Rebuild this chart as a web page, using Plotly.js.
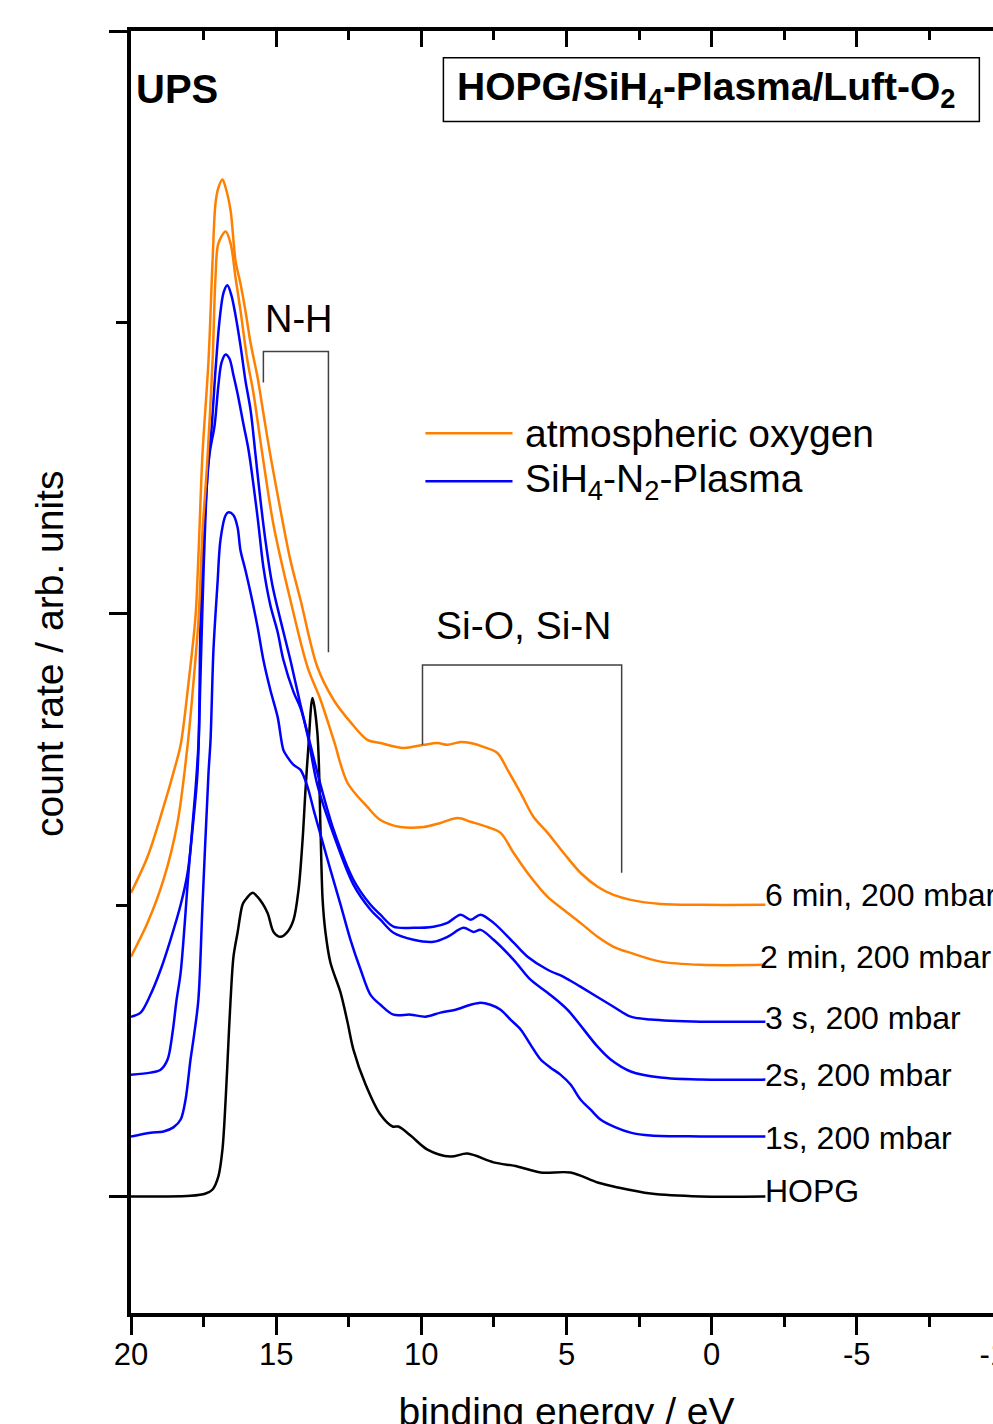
<!DOCTYPE html>
<html>
<head>
<meta charset="utf-8">
<script src="https://cdn.plot.ly/plotly-3.0.1.min.js"></script>
<style>
html,body{margin:0;padding:0;overflow:hidden;background:#fff;}
#chart{width:1042px;height:1440px;}
</style>
</head>
<body>
<div id="chart"></div>
<script>
// ---- data (binding energy in eV, count rate in arb. units, stacked) ----
const hopgX = [20, 18.98, 17.95, 17.43, 17.19, 16.99, 16.85, 16.74, 16.64, 16.57, 16.47, 16.33, 16.16, 16.06, 15.81, 15.64, 15.30, 15.09, 14.85, 14.61, 14.40, 14.23, 14.09, 13.99, 13.89, 13.75, 13.58, 13.47, 13.40, 13.30, 13.13, 12.78, 12.54, 12.34, 11.92, 11.41, 10.99, 10.79, 10.37, 9.79, 9.00, 8.41, 7.51, 6.69, 5.89, 4.86, 3.93, 3.24, 2.10, 0.38, -1.85];
const hopgY = [0, 0, 0.002, 0.010, 0.024, 0.069, 0.161, 0.333, 0.538, 0.675, 0.823, 0.905, 1.001, 1.018, 1.042, 1.028, 0.974, 0.908, 0.891, 0.908, 0.950, 1.052, 1.224, 1.395, 1.543, 1.711, 1.591, 1.248, 1.018, 0.905, 0.802, 0.699, 0.597, 0.504, 0.384, 0.281, 0.240, 0.240, 0.209, 0.161, 0.137, 0.147, 0.117, 0.103, 0.082, 0.082, 0.048, 0.031, 0.010, 0, 0];

const s1X = [20, 19.33, 18.88, 18.54, 18.29, 18.12, 17.95, 17.85, 17.68, 17.54, 17.33, 17.26, 17.16, 17.02, 16.92, 16.74, 16.64, 16.47, 16.33, 16.23, 16.06, 15.88, 15.64, 15.44, 15.20, 14.95, 14.75, 14.61, 14.40, 14.16, 13.92, 13.71, 13.47, 13.13, 12.78, 12.44, 12.09, 11.75, 11.41, 10.96, 10.37, 9.85, 9.34, 8.82, 8.30, 7.96, 7.62, 7.27, 6.93, 6.58, 6.24, 5.89, 5.55, 5.21, 4.86, 4.52, 4.17, 3.83, 3.31, 2.79, 2.10, 0.38, -1.85];
const s1Y = [0.206, 0.219, 0.223, 0.237, 0.264, 0.333, 0.470, 0.538, 0.675, 0.994, 1.454, 1.567, 1.875, 2.105, 2.252, 2.338, 2.348, 2.338, 2.297, 2.218, 2.150, 2.071, 1.954, 1.841, 1.738, 1.646, 1.532, 1.508, 1.481, 1.464, 1.406, 1.327, 1.241, 1.121, 1.001, 0.881, 0.778, 0.692, 0.658, 0.624, 0.624, 0.617, 0.631, 0.641, 0.658, 0.665, 0.658, 0.641, 0.607, 0.573, 0.521, 0.470, 0.442, 0.418, 0.384, 0.333, 0.298, 0.264, 0.237, 0.219, 0.209, 0.206, 0.206];

const s2X = [20, 19.33, 18.98, 18.74, 18.57, 18.43, 18.29, 18.02, 17.78, 17.67, 17.61, 17.50, 17.30, 17.12, 16.99, 16.88, 16.74, 16.61, 16.47, 16.33, 16.12, 15.95, 15.64, 15.44, 15.20, 14.95, 14.75, 14.40, 14.16, 13.92, 13.58, 13.02, 12.34, 11.75, 11.41, 10.96, 10.27, 9.58, 9.10, 8.55, 8.20, 7.96, 7.51, 6.82, 6.24, 5.65, 4.97, 3.93, 3.48, 2.79, 1.76, 0.38, -1.85];
const s2Y = [0.418, 0.425, 0.435, 0.470, 0.562, 0.675, 0.768, 1.111, 1.395, 1.567, 1.95, 2.25, 2.544, 2.647, 2.784, 2.863, 2.890, 2.876, 2.818, 2.756, 2.647, 2.561, 2.331, 2.160, 2.029, 1.937, 1.841, 1.731, 1.676, 1.584, 1.412, 1.241, 1.070, 0.984, 0.950, 0.905, 0.881, 0.874, 0.891, 0.922, 0.908, 0.915, 0.881, 0.812, 0.744, 0.699, 0.641, 0.514, 0.470, 0.429, 0.408, 0.401, 0.401];

const s3X = [20, 19.67, 19.33, 18.98, 18.64, 18.29, 18.05, 17.85, 17.71, 17.61, 17.50, 17.36, 17.23, 17.09, 16.95, 16.81, 16.68, 16.54, 16.40, 16.23, 16.06, 15.88, 15.71, 15.54, 15.37, 15.13, 14.85, 14.51, 14.16, 13.82, 13.47, 13.02, 12.34, 11.75, 11.41, 10.96, 10.27, 9.58, 9.10, 8.65, 8.30, 7.96, 7.51, 6.82, 6.34, 5.65, 5.10, 4.52, 3.38, 2.79, 2.10, 0.38, -1.85];
const s3Y = [0.617, 0.631, 0.692, 0.778, 0.881, 1.001, 1.111, 1.292, 1.454, 1.772, 2.150, 2.492, 2.629, 2.835, 3.007, 3.103, 3.127, 3.092, 3.024, 2.921, 2.801, 2.698, 2.544, 2.389, 2.252, 2.098, 1.978, 1.841, 1.687, 1.550, 1.412, 1.258, 1.087, 1.001, 0.967, 0.926, 0.922, 0.926, 0.939, 0.967, 0.950, 0.967, 0.939, 0.871, 0.823, 0.778, 0.754, 0.720, 0.651, 0.617, 0.607, 0.600, 0.600];

const m2X = [20, 19.43, 18.88, 18.40, 18.05, 17.85, 17.67, 17.54, 17.37, 17.19, 17.09, 16.99, 16.74, 16.57, 16.40, 16.23, 15.99, 15.78, 15.47, 15.09, 14.51, 13.92, 13.47, 13.02, 12.54, 11.86, 11.41, 10.72, 9.92, 9.34, 8.75, 8.30, 7.72, 7.27, 6.82, 6.24, 5.65, 5.10, 4.52, 3.93, 3.38, 2.79, 1.76, 0.38, -1.85];
const m2Y = [0.823, 0.939, 1.087, 1.282, 1.550, 1.762, 1.988, 2.276, 2.527, 2.869, 3.154, 3.271, 3.312, 3.271, 3.154, 3.041, 2.869, 2.756, 2.544, 2.304, 2.047, 1.817, 1.704, 1.567, 1.419, 1.337, 1.292, 1.268, 1.268, 1.282, 1.299, 1.286, 1.268, 1.248, 1.179, 1.097, 1.028, 0.984, 0.939, 0.891, 0.857, 0.836, 0.806, 0.795, 0.795];

const m6X = [20, 19.43, 18.88, 18.54, 18.29, 18.02, 17.78, 17.67, 17.54, 17.33, 17.19, 17.09, 16.99, 16.85, 16.74, 16.57, 16.40, 16.23, 16.06, 15.88, 15.64, 15.44, 15.20, 14.85, 14.51, 14.16, 13.58, 13.02, 12.44, 11.86, 11.41, 10.62, 9.92, 9.44, 9.10, 8.65, 8.30, 7.86, 7.38, 7.03, 6.58, 6.14, 5.65, 5.10, 4.52, 3.93, 3.38, 2.79, 1.76, 0.38, -1.85];
const m6Y = [1.042, 1.166, 1.337, 1.454, 1.550, 1.762, 1.988, 2.218, 2.544, 2.869, 3.212, 3.408, 3.462, 3.490, 3.462, 3.384, 3.212, 3.133, 3.041, 2.928, 2.811, 2.688, 2.544, 2.355, 2.184, 2.047, 1.817, 1.704, 1.628, 1.567, 1.556, 1.539, 1.550, 1.556, 1.550, 1.560, 1.556, 1.543, 1.522, 1.464, 1.385, 1.303, 1.248, 1.179, 1.111, 1.063, 1.035, 1.018, 1.004, 1.001, 1.001];

const seriesNames = ['HOPG', '1s, 200 mbar', '2s, 200 mbar', '3 s, 200 mbar', '2 min, 200 mbar', '6 min, 200 mbar'];
const seriesColors = ['#000000', '#0000FF', '#0000FF', '#0000FF', '#FF8000', '#FF8000'];
const legendNames = ['atmospheric oxygen', 'SiH<sub>4</sub>-N<sub>2</sub>-Plasma'];
const legendColors = ['#FF8000', '#0000FF'];
const xTickVals = [20, 15, 10, 5, 0, -5, -10];
const xTickText = ['20', '15', '10', '5', '0', '-5', '-10'];

const xs = [hopgX, s1X, s2X, s3X, m2X, m6X];
const ys = [hopgY, s1Y, s2Y, s3Y, m2Y, m6Y];

const FONT = 'Liberation Sans, Arial, Helvetica, sans-serif';

const traces = xs.map((x, i) => ({
  type: 'scatter', mode: 'lines', x: x, y: ys[i], name: seriesNames[i],
  xaxis: i === xs.length - 1 ? 'x2' : 'x', yaxis: 'y',
  line: {color: seriesColors[i], width: 2.5, shape: 'spline', smoothing: 0.9},
  showlegend: false, hoverinfo: 'skip'
}));

// curve-end labels
const labelAnn = seriesNames.map((n, i) => {
  const lastX = xs[i][xs[i].length - 1];
  const lastY = ys[i][ys[i].length - 1];
  return {
    x: lastX + (i === 4 ? 0.25 : 0.08), y: lastY + [0.02, -0.004, 0.017, 0.014, 0.028, 0.034][i],
    xref: 'x', yref: 'y', text: n, showarrow: false,
    xanchor: 'left', yanchor: 'middle', font: {family: FONT, size: 32, color: '#000'}
  };
});

const annotations = labelAnn.concat([
  {x: 18.40, y: 3.80, xref: 'x', yref: 'y', text: '<b>UPS</b>', showarrow: false,
   xanchor: 'center', yanchor: 'middle', font: {family: FONT, size: 40, color: '#000'}},
  {x: 0.18, y: 3.80, xref: 'x', yref: 'y', text: '<b>HOPG/SiH<sub>4</sub>-Plasma/Luft-O<sub>2</sub></b>', showarrow: false,
   xanchor: 'center', yanchor: 'middle', font: {family: FONT, size: 39, color: '#000'}},
  {x: 14.20, y: 3.013, xref: 'x', yref: 'y', text: 'N-H', showarrow: false,
   xanchor: 'center', yanchor: 'middle', font: {family: FONT, size: 38, color: '#000'}},
  {x: 6.45, y: 1.958, xref: 'x', yref: 'y', text: 'Si-O, Si-N', showarrow: false,
   xanchor: 'center', yanchor: 'middle', font: {family: FONT, size: 39, color: '#000'}},
  {x: 6.50, y: 2.619, xref: 'x', yref: 'y', text: legendNames[0], showarrow: false,
   xanchor: 'left', yanchor: 'middle', font: {family: FONT, size: 39, color: '#000'}},
  {x: 6.50, y: 2.455, xref: 'x', yref: 'y', text: legendNames[1], showarrow: false,
   xanchor: 'left', yanchor: 'middle', font: {family: FONT, size: 39, color: '#000'}},
  {x: -0.093, y: 1.862, xref: 'paper', yref: 'y', text: 'count rate / arb. units', showarrow: false,
   textangle: -90, xanchor: 'center', yanchor: 'middle', font: {family: FONT, size: 39, color: '#000'}}
]);

const shapes = [
  {type: 'path', xref: 'x', yref: 'y', path: 'M15.44,2.794 L15.44,2.900 L13.20,2.900 L13.20,1.868',
   line: {color: '#404040', width: 1.5}},
  {type: 'path', xref: 'x', yref: 'y', path: 'M9.96,1.550 L9.96,1.824 L3.10,1.824 L3.10,1.111',
   line: {color: '#404040', width: 1.5}},
  {type: 'rect', xref: 'x', yref: 'y', x0: 9.24, x1: -9.22, y0: 3.689, y1: 3.908,
   line: {color: '#000', width: 1.5}, fillcolor: 'rgba(0,0,0,0)'},
  {type: 'line', xref: 'x', yref: 'y', x0: 9.86, x1: 6.86, y0: 2.619, y1: 2.619,
   line: {color: legendColors[0], width: 2.5}},
  {type: 'line', xref: 'x', yref: 'y', x0: 9.86, x1: 6.86, y0: 2.455, y1: 2.455,
   line: {color: legendColors[1], width: 2.5}}
];

const axisCommon = {
  showline: true, linewidth: 4, linecolor: '#000', showgrid: false, zeroline: false,
  tickcolor: '#000', tickwidth: 3
};

const layout = {
  width: 1042, height: 1440,
  margin: {l: 131, r: 40, t: 31, b: 127, pad: 0},
  paper_bgcolor: '#fff', plot_bgcolor: '#fff',
  font: {family: FONT, color: '#000'},
  showlegend: false,
  xaxis: Object.assign({}, axisCommon, {
    range: [20, -10], tickmode: 'array', tickvals: xTickVals, ticktext: xTickText,
    ticks: 'outside', ticklen: 18, ticklabelstandoff: -7,
    tickfont: {family: FONT, size: 31, color: '#000'},
    minor: {dtick: 2.5, tick0: 0, ticks: 'outside', ticklen: 10, tickwidth: 3, tickcolor: '#000', showgrid: false},
    title: {text: 'binding energy / eV', font: {family: FONT, size: 39, color: '#000'}, standoff: 27}
  }),
  xaxis2: Object.assign({}, axisCommon, {
    overlaying: 'x', side: 'top', anchor: 'y', range: [20, -10], tick0: 0, dtick: 5,
    ticks: 'inside', ticklen: 16, showticklabels: false,
    minor: {dtick: 2.5, tick0: 0, ticks: 'inside', ticklen: 9, tickwidth: 3, tickcolor: '#000', showgrid: false}
  }),
  yaxis: Object.assign({}, axisCommon, {
    range: [-0.4, 4.0], tick0: 0, dtick: 2, ticks: 'outside', ticklen: 18, showticklabels: false,
    minor: {dtick: 1, tick0: 0, ticks: 'outside', ticklen: 11, tickwidth: 3, tickcolor: '#000', showgrid: false}
  }),
  annotations: annotations,
  shapes: shapes
};

Plotly.newPlot('chart', traces, layout, {displayModeBar: false, staticPlot: true});
</script>
</body>
</html>
